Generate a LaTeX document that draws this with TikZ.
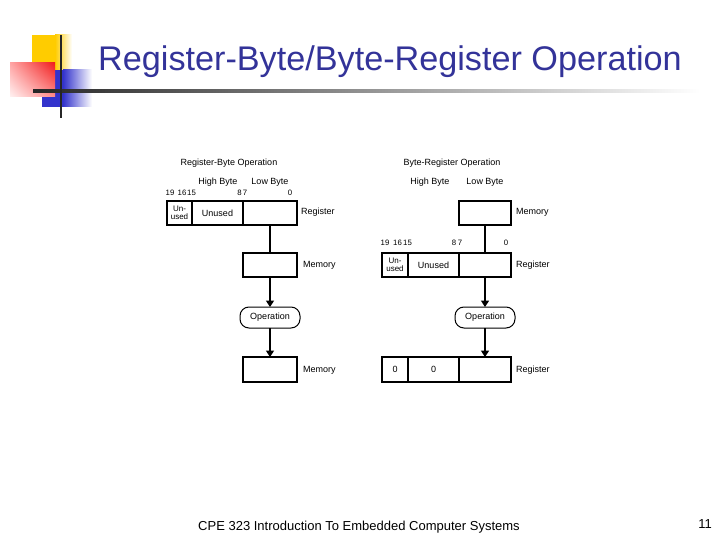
\documentclass[tikz,border=0pt]{standalone}
\usepackage{fontspec}
\setmainfont{Liberation Sans}
\usetikzlibrary{arrows.meta,shadings}
\definecolor{titleblue}{RGB}{51,51,153}
\definecolor{decoyellow}{RGB}{255,204,0}
\definecolor{decoblue}{RGB}{51,51,204}
\definecolor{decored}{RGB}{240,30,30}
\tikzset{
  cell/.style={draw, line width=1.6pt, minimum height=24pt, inner sep=0pt, outer sep=0pt, anchor=north west, font=\fontsize{9}{10}\selectfont},
  lbl/.style={font=\fontsize{9}{10}\selectfont, inner sep=0pt},
  bitno/.style={font=\fontsize{7.8}{8}\selectfont, inner sep=0pt},
  opbox/.style={draw, line width=1pt, rounded corners=9pt, minimum width=60pt, minimum height=21pt, inner sep=0pt, outer sep=0pt, font=\fontsize{9}{10}\selectfont},
  conn/.style={line width=2.4pt},
  arr/.style={conn, -{Triangle[length=6.5pt,width=8pt]}},
}
\begin{document}
\begin{tikzpicture}[x=1pt,y=-1pt]
\useasboundingbox (0,0) rectangle (720,540);
\fill[white] (0,0) rectangle (720,540);
% decoration
\fill[decoyellow] (32,35) rectangle (55,70);
\shade[left color=decoyellow, right color=white] (55,35) rectangle (72,70);
\fill[decoblue] (42,70) rectangle (63,107);
\shade[left color=decoblue, right color=white] (63,70) rectangle (92,107);
\shade[upper left=red!35, upper right=decored, lower left=red!5, lower right=red!45] (10,63) rectangle (55,97);
\shade[left color=black!85, middle color=black!45, right color=white] (33,89.5) rectangle (700,92.5);
\draw[line width=2.5pt, black!85] (61,35) -- (61,118);
% title
\node[anchor=base west, inner sep=0pt, text=titleblue, font=\fontsize{34.2}{36}\selectfont] (title) at (98,71) {Register-Byte/Byte-Register Operation};
% left diagram
\node[lbl] (lhead) at (229,163) {Register-Byte Operation};
\node[lbl] (lhigh) at (218,182) {High Byte};
\node[lbl] (llow) at (270,182) {Low Byte};
\node[bitno] (lb19) at (170,193) {19};
\node[bitno] (lb16) at (182,193) {16};
\node[bitno] (lb15) at (191.5,193) {15};
\node[bitno] (lb8) at (239.5,193) {8};
\node[bitno] (lb7) at (245,193) {7};
\node[bitno] (lb0) at (290,193) {0};
\node[cell, minimum width=25pt, align=center, font=\fontsize{8}{8.5}\selectfont] (rl1) at (167,201) {Un-\\used};
\node[cell, minimum width=51pt] (rl2) at (192,201) {Unused};
\node[cell, minimum width=54pt] (rl3) at (243,201) {};
\node[lbl, anchor=west] (lreg) at (301,212) {Register};
\node[cell, minimum width=54pt] (ml1) at (243,253) {};
\node[lbl, anchor=west] (lmem1) at (303,265) {Memory};
\node[opbox] (opl) at (270,317.5) {Operation};
\node[cell, minimum width=54pt, minimum height=25pt] (ml2) at (243,357) {};
\node[lbl, anchor=west] (lmem2) at (303,370) {Memory};
\draw[conn] (rl3.south) -- (ml1.north);
\draw[arr] (ml1.south) -- (opl.north);
\draw[arr] (opl.south) -- (ml2.north);
% right diagram
\node[lbl] (rhead) at (452,163) {Byte-Register Operation};
\node[lbl] (rhigh) at (430,182) {High Byte};
\node[lbl] (rlow) at (485,182) {Low Byte};
\node[cell, minimum width=52pt] (mr1) at (459,201) {};
\node[lbl, anchor=west] (rmem) at (516,212) {Memory};
\node[bitno] (rb19) at (385,243) {19};
\node[bitno] (rb16) at (397.5,243) {16};
\node[bitno] (rb15) at (407.5,243) {15};
\node[bitno] (rb8) at (454,243) {8};
\node[bitno] (rb7) at (460,243) {7};
\node[bitno] (rb0) at (506,243) {0};
\node[cell, minimum width=26pt, align=center, font=\fontsize{8}{8.5}\selectfont] (rr1) at (382,253) {Un-\\used};
\node[cell, minimum width=51pt] (rr2) at (408,253) {Unused};
\node[cell, minimum width=52pt] (rr3) at (459,253) {};
\node[lbl, anchor=west] (rreg1) at (516,265) {Register};
\node[opbox] (opr) at (485,317.5) {Operation};
\node[cell, minimum width=26pt, minimum height=25pt] (rb1) at (382,357) {0};
\node[cell, minimum width=51pt, minimum height=25pt] (rb2) at (408,357) {0};
\node[cell, minimum width=52pt, minimum height=25pt] (rb3) at (459,357) {};
\node[lbl, anchor=west] (rreg2) at (516,370) {Register};
\draw[conn] (mr1.south) -- (rr3.north);
\draw[arr] (rr3.south) -- (opr.north);
\draw[arr] (opr.south) -- (rb3.north);
% footer
\node[anchor=base, inner sep=0pt, font=\fontsize{13}{14}\selectfont] (footer) at (359,530) {CPE 323 Introduction To Embedded Computer Systems};
\node[anchor=base, inner sep=0pt, font=\fontsize{13}{14}\selectfont] (pageno) at (705,528) {11};
\end{tikzpicture}
\end{document}
